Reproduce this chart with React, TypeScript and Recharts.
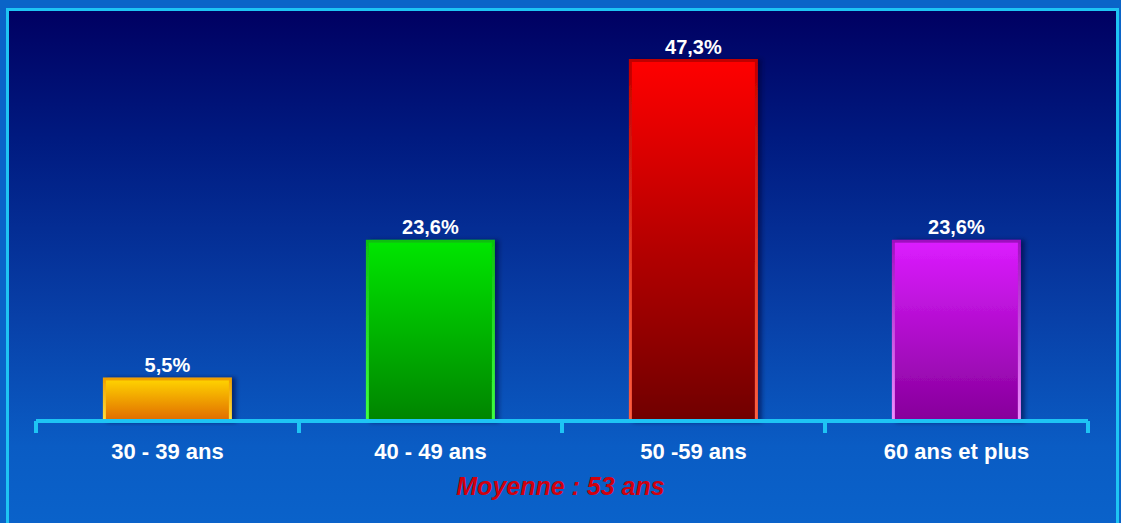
import React from "react";
import { BarChart, Bar, XAxis, YAxis, Cell, LabelList } from "recharts";

// tranches d'âge et pourcentages
const categories = ["30 - 39 ans", "40 - 49 ans", "50 -59 ans", "60 ans et plus"];
const values = [5.5, 23.6, 47.3, 23.6];
const note = "Moyenne : 53 ans";

const data = categories.map((name, i) => ({ name, v: values[i] }));

const W = 1121;
const H = 523;
const AXIS_H = 30;
const M = { top: 40, right: 33, bottom: 102 - AXIS_H, left: 36 };
const BAND = (W - M.left - M.right) / categories.length;
const CYAN = "#1ec4f4";
const FONT = "'Liberation Sans', Arial, sans-serif";

const grads = [
  { id: "g0", top: "#ffd400", bot: "#e06a00", s1: "#f0a000", s2: "#ffe040" },
  { id: "g1", top: "#00e600", bot: "#008400", s1: "#10c010", s2: "#40ff40" },
  { id: "g2", top: "#ff0000", bot: "#700000", s1: "#c00000", s2: "#ff6040" },
  { id: "g3", top: "#dc1cff", bot: "#86009a", s1: "#a010c0", s2: "#f090ff" },
];

const fmt = (v: any) => `${String(v).replace(".", ",")}%`;

function Tick(props: any) {
  const { x, y, payload, index } = props;
  const last = index === categories.length - 1;
  const y0 = y - 8; // position de l'axe
  return (
    <g>
      <line x1={x - BAND / 2} x2={x - BAND / 2} y1={y0} y2={y0 + 12} stroke={CYAN} strokeWidth={4} />
      {last && <line x1={x + BAND / 2} x2={x + BAND / 2} y1={y0} y2={y0 + 12} stroke={CYAN} strokeWidth={4} />}
      <text x={x} y={y0 + 38} textAnchor="middle" fill="#fff" fontSize={22} fontWeight="bold" fontFamily={FONT}>
        {payload.value}
      </text>
    </g>
  );
}

export default function App() {
  return (
    <div style={{ position: "absolute", left: 0, top: 0, width: W, height: H, overflow: "hidden", background: "#0a64c8" }}>
      <div
        style={{
          position: "absolute", left: 6, top: 8, width: W - 8, height: H - 8,
          borderTop: `3px solid ${CYAN}`, borderLeft: `3px solid ${CYAN}`, borderRight: `3px solid ${CYAN}`,
          boxSizing: "border-box",
          background: "linear-gradient(to bottom, #000062 0%, #001a80 25%, #0840a8 60%, #0a5cc4 85%, #0a62ca 100%)",
        }}
      />
      <div style={{ position: "absolute", left: 0, top: 0 }}>
        <BarChart width={W} height={H} data={data} margin={M} barCategoryGap="26%">
          <defs>
            {grads.map((g) => (
              <React.Fragment key={g.id}>
                <linearGradient id={g.id} x1="0" y1="0" x2="0" y2="1">
                  <stop offset="0%" stopColor={g.top} />
                  <stop offset="100%" stopColor={g.bot} />
                </linearGradient>
                <linearGradient id={g.id + "s"} x1="0" y1="0" x2="0" y2="1">
                  <stop offset="0%" stopColor={g.s1} />
                  <stop offset="100%" stopColor={g.s2} />
                </linearGradient>
              </React.Fragment>
            ))}
            <filter id="sh" x="-10%" y="-10%" width="130%" height="120%">
              <feDropShadow dx="4" dy="0" stdDeviation="2" floodColor="#000030" floodOpacity="0.5" />
            </filter>
          </defs>
          <YAxis hide domain={[0, 50]} />
          <XAxis
            dataKey="name"
            height={AXIS_H}
            axisLine={{ stroke: CYAN, strokeWidth: 4 }}
            tickLine={false}
            tick={<Tick />}
            interval={0}
          />
          <Bar dataKey="v" isAnimationActive={false} strokeWidth={3} filter="url(#sh)">
            {grads.map((g) => (
              <Cell key={g.id} fill={`url(#${g.id})`} stroke={`url(#${g.id}s)`} />
            ))}
            <LabelList
              dataKey="v"
              position="top"
              offset={7}
              formatter={fmt}
              fill="#fff"
              fontSize={20}
              fontWeight="bold"
              fontFamily={FONT}
            />
          </Bar>
        </BarChart>
      </div>
      <div
        style={{
          position: "absolute", left: 0, width: W, top: 472, textAlign: "center",
          color: "#d0000e", fontFamily: FONT, fontWeight: "bold", fontStyle: "italic", fontSize: 25,
        }}
      >
        {note}
      </div>
    </div>
  );
}
